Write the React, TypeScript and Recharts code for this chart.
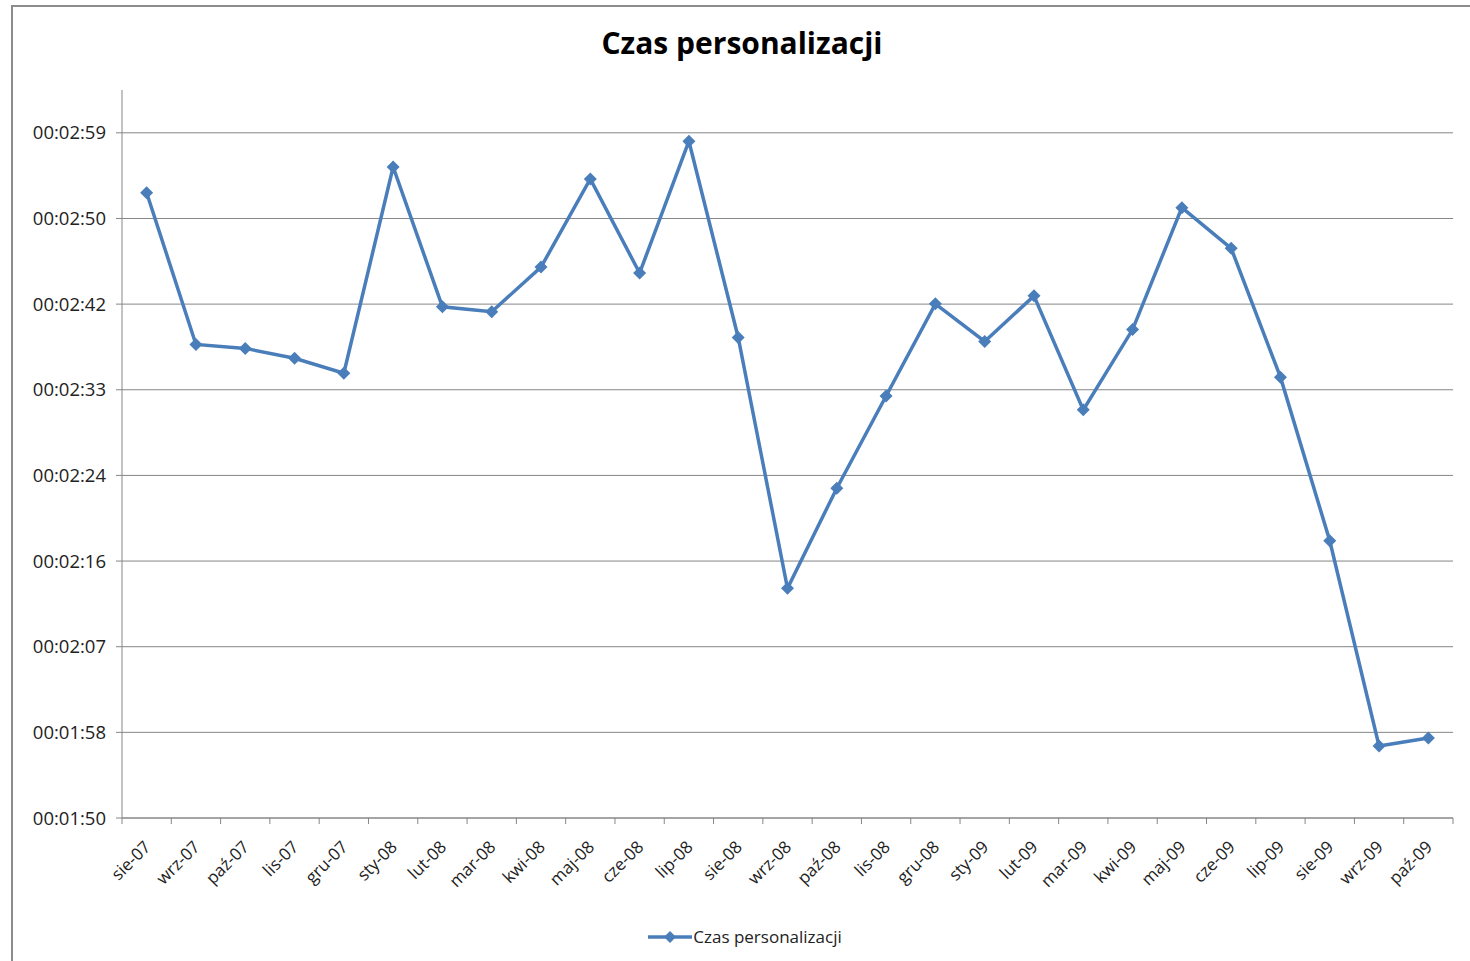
import { LineChart, Line, XAxis, YAxis, CartesianGrid, Legend } from "recharts";

// ── Data ─────────────────────────────────────────────────────────────────────

const months = [
  "sie-07", "wrz-07", "paź-07", "lis-07", "gru-07", "sty-08", "lut-08", "mar-08", "kwi-08",
  "maj-08", "cze-08", "lip-08", "sie-08", "wrz-08", "paź-08", "lis-08", "gru-08", "sty-09",
  "lut-09", "mar-09", "kwi-09", "maj-09", "cze-09", "lip-09", "sie-09", "wrz-09", "paź-09",
];

// seconds
const czas = [
  172.8, 157.5, 157.1, 156.1, 154.6, 175.4, 161.3, 160.8, 165.3,
  174.2, 164.7, 178.0, 158.2, 132.9, 143.0, 152.3, 161.6, 157.8,
  162.4, 150.9, 159.0, 171.3, 167.2, 154.2, 137.7, 117.0, 117.8,
];

// Excel time axis: 0.00127 .. 0.00212 days, major unit 0.0001 day
const yMin = 109.728;
const yMax = 183.168;
const yTicks = [109.728, 118.368, 127.008, 135.648, 144.288, 152.928, 161.568, 170.208, 178.848];

const seriesName = "Czas personalizacji";
const BLUE = "#4a7ebb";
const GREY = "#868686";
const FONT = "'Open Sans', 'Liberation Sans', sans-serif";

const data = months.map((m, i) => ({ pos: i + 0.5, month: m, czas: czas[i] }));
const xTicks = Array.from({ length: months.length * 2 + 1 }, (_, i) => i / 2);

const fmtTime = (v: number) => {
  const s = Math.round(v);
  const mm = String(Math.floor(s / 60)).padStart(2, "0");
  const ss = String(s % 60).padStart(2, "0");
  return `00:${mm}:${ss}`;
};

// ── Custom pieces ────────────────────────────────────────────────────────────

// integer ticks = category boundaries (tick marks), half ticks = month labels
function XTick(props: any) {
  const { x, y, payload } = props;
  const v = payload.value as number;
  if (Number.isInteger(v)) {
    return <line x1={x} y1={y} x2={x} y2={y + 6} stroke={GREY} strokeWidth={1} />;
  }
  const label = months[Math.floor(v)];
  const ax = x + 5;
  const ay = y + 30;
  return (
    <text
      x={ax}
      y={ay}
      transform={`rotate(-45, ${ax}, ${ay})`}
      textAnchor="end"
      fontSize={17}
      fontFamily={FONT}
      fill="#222"
    >
      {label}
    </text>
  );
}

function Diamond(props: any) {
  const { cx, cy, index } = props;
  if (cx == null || cy == null) return <g key={index} />;
  const r = 6.5;
  return (
    <path
      key={index}
      d={`M${cx},${cy - r}L${cx + r},${cy}L${cx},${cy + r}L${cx - r},${cy}Z`}
      fill={BLUE}
    />
  );
}

function LegendContent() {
  return (
    <div style={{ display: "flex", alignItems: "center", justifyContent: "center", fontFamily: FONT, fontSize: 17, color: "#222" }}>
      <svg width={44} height={14} style={{ marginRight: 1 }}>
        <line x1={0} y1={7} x2={44} y2={7} stroke={BLUE} strokeWidth={3.5} />
        <path d="M22,1L28,7L22,13L16,7Z" fill={BLUE} />
      </svg>
      <span>{seriesName}</span>
    </div>
  );
}

// ── Component ────────────────────────────────────────────────────────────────

export default function App() {
  return (
    <div style={{ position: "fixed", left: 0, top: 0, width: 1470, height: 961, overflow: "hidden", background: "#fff" }}>
      <div
        style={{
          position: "absolute",
          left: 11,
          top: 5,
          width: 1480,
          height: 980,
          border: "2px solid #8c8c8c",
          boxSizing: "border-box",
        }}
      />
      <div
        style={{
          position: "absolute",
          left: 12,
          width: 1460,
          top: 22,
          textAlign: "center",
          fontFamily: FONT,
          fontWeight: 700,
          fontSize: 30,
          color: "#000",
        }}
      >
        {seriesName}
      </div>
      <div style={{ position: "absolute", left: 0, top: 0 }}>
        <LineChart width={1470} height={961} data={data} margin={{ top: 90, right: 17, left: 0, bottom: 43 }}>
          <CartesianGrid vertical={false} stroke={GREY} strokeWidth={1} syncWithTicks />
          <XAxis
            dataKey="pos"
            type="number"
            domain={[0, months.length]}
            ticks={xTicks}
            interval={0}
            tickSize={0}
            tickMargin={0}
            tickLine={false}
            axisLine={{ stroke: GREY, strokeWidth: 1 }}
            tick={<XTick />}
            height={100}
          />
          <YAxis
            type="number"
            domain={[yMin, yMax]}
            ticks={yTicks}
            interval={0}
            tickFormatter={fmtTime}
            width={122}
            tickSize={6}
            tickMargin={10}
            axisLine={{ stroke: GREY, strokeWidth: 1 }}
            tickLine={{ stroke: GREY, strokeWidth: 1 }}
            tick={{ fill: "#222", fontSize: 18.5, fontFamily: FONT }}
            allowDataOverflow
          />
          <Legend
            layout="horizontal"
            verticalAlign="middle"
            align="center"
            content={() => <LegendContent />}
            wrapperStyle={{ top: 925, left: 0, width: 1490 }}
          />
          <Line
            dataKey="czas"
            name={seriesName}
            stroke={BLUE}
            strokeWidth={3.5}
            dot={(p: any) => <Diamond {...p} />}
            activeDot={false}
            isAnimationActive={false}
          />
        </LineChart>
      </div>
    </div>
  );
}
